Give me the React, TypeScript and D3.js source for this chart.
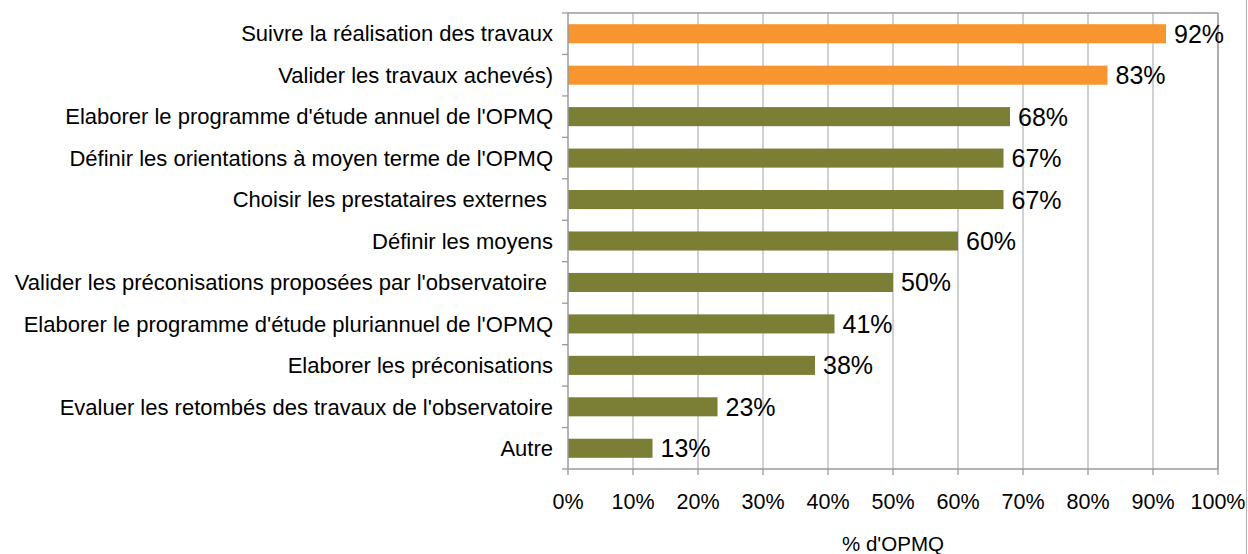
import React from "react";
import * as d3 from "d3";

const categories = [
  "Suivre la réalisation des travaux",
  "Valider les travaux achevés)",
  "Elaborer le programme d'étude annuel de l'OPMQ",
  "Définir les orientations à moyen terme de l'OPMQ",
  "Choisir les prestataires externes ",
  "Définir les moyens",
  "Valider les préconisations proposées par l'observatoire ",
  "Elaborer le programme d'étude pluriannuel de l'OPMQ",
  "Elaborer les préconisations",
  "Evaluer les retombés des travaux de l'observatoire",
  "Autre",
];
const values = [92, 83, 68, 67, 67, 60, 50, 41, 38, 23, 13];
const highlighted = [true, true, false, false, false, false, false, false, false, false, false];
const xTicks = [0, 10, 20, 30, 40, 50, 60, 70, 80, 90, 100];
const axisTitle = "% d'OPMQ";

const W = 1248;
const H = 554;
const left = 568;
const right = 1218;
const top = 13;
const bottom = 469;
const FONT = "'Liberation Sans', Arial, Helvetica, sans-serif";

export default function App() {
  const x = d3.scaleLinear().domain([0, 100]).range([left, right]);
  const y = d3
    .scaleBand<number>()
    .domain(d3.range(categories.length))
    .range([top, bottom])
    .paddingInner(0.54)
    .paddingOuter(0.27);
  const step = (bottom - top) / categories.length;
  const bandEdges = d3.range(categories.length + 1).map((i) => top + i * step);

  return (
    <svg
      width={W}
      height={H}
      style={{ position: "absolute", left: 0, top: 0, background: "#fff" }}
      fontFamily={FONT}
    >
      {/* outer right border */}
      <line x1={1246.5} x2={1246.5} y1={0} y2={H} stroke="#b0b0b0" strokeWidth={1} />
      {/* gridlines */}
      {xTicks.slice(1).map((t) => (
        <line key={"g" + t} x1={x(t)} x2={x(t)} y1={top} y2={bottom} stroke="#b8b8bc" strokeWidth={1.3} />
      ))}
      {/* plot border top/right */}
      <line x1={left} x2={right} y1={top} y2={top} stroke="#9a9a9e" strokeWidth={1.3} />
      <line x1={right} x2={right} y1={top} y2={bottom} stroke="#9a9a9e" strokeWidth={1.3} />
      {/* bars */}
      {values.map((v, i) => (
        <rect
          key={"b" + i}
          x={x(0)}
          y={y(i)}
          width={x(v) - x(0)}
          height={y.bandwidth()}
          fill={highlighted[i] ? "#f7962e" : "#7b7e35"}
        />
      ))}
      {/* axes */}
      <line x1={left} x2={left} y1={top} y2={bottom} stroke="#9a9a9e" strokeWidth={1.5} />
      <line x1={left} x2={right} y1={bottom} y2={bottom} stroke="#9a9a9e" strokeWidth={1.5} />
      {bandEdges.map((e, i) => (
        <line key={"yt" + i} x1={left - 6} x2={left} y1={e} y2={e} stroke="#9a9a9e" strokeWidth={1.3} />
      ))}
      {xTicks.map((t) => (
        <line key={"xt" + t} x1={x(t)} x2={x(t)} y1={bottom} y2={bottom + 6} stroke="#9a9a9e" strokeWidth={1.3} />
      ))}
      {/* category labels */}
      {categories.map((c, i) => (
        <text
          key={"c" + i}
          x={left - 15}
          y={(y(i) as number) + y.bandwidth() / 2}
          dy="0.35em"
          textAnchor="end"
          fontSize={22}
          fill="#000"
          style={{ whiteSpace: "pre" }}
        >
          {c}
        </text>
      ))}
      {/* value labels */}
      {values.map((v, i) => (
        <text
          key={"v" + i}
          x={x(v) + 8}
          y={(y(i) as number) + y.bandwidth() / 2}
          dy="0.36em"
          fontSize={25}
          fill="#000"
        >
          {v + "%"}
        </text>
      ))}
      {/* x tick labels */}
      {xTicks.map((t) => (
        <text key={"xl" + t} x={x(t)} y={509} textAnchor="middle" fontSize={21.5} fill="#000">
          {t + "%"}
        </text>
      ))}
      <text x={(left + right) / 2} y={551} textAnchor="middle" fontSize={20.5} fill="#000">
        {axisTitle}
      </text>
    </svg>
  );
}
